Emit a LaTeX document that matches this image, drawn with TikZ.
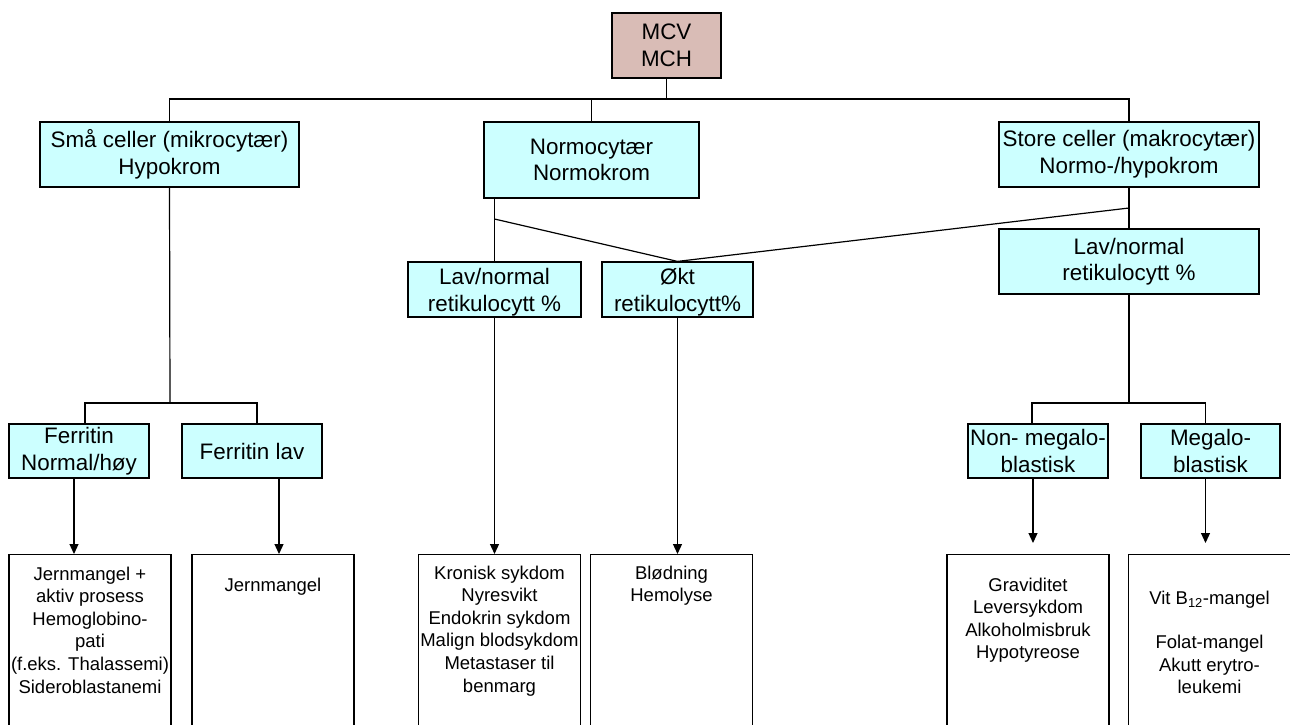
\documentclass[tikz,border=0pt]{standalone}
\usepackage{fontspec}
\setmainfont{Liberation Sans}
\usetikzlibrary{arrows.meta}
\definecolor{boxcyan}{RGB}{204,255,255}
\definecolor{boxrose}{RGB}{217,188,182}
\begin{document}
\begin{tikzpicture}
[x=1pt,y=-1pt,line width=1.2pt,
 catnode/.style={draw,fill=boxcyan,align=center,inner sep=0pt,font=\fontsize{22.4}{26.6}\selectfont},
 retnode/.style={catnode,minimum height=55pt,text height=47pt,text depth=4pt},
 resnode/.style={draw,anchor=north,align=center,minimum width=162pt,inner xsep=2pt,text depth=220pt,font=\fontsize{18.5}{22.6}\selectfont},
 arr/.style={-{Triangle[length=10pt,width=9pt]}}]

\useasboundingbox (0,0) rectangle (1290,724);
\clip (0,0) rectangle (1290,724);

\node (root) at (666.5,45.5) [catnode,fill=boxrose,minimum width=109pt,minimum height=65pt] {MCV\\MCH};

\node (smaa) at (169.5,154.5) [catnode,minimum width=259pt,minimum height=65pt] {Små celler (mikrocytær)\\Hypokrom};
\node (normo) at (591.5,160) [catnode,minimum width=215pt,minimum height=76pt] {Normocytær\\Normokrom};
\node (store) at (1129,154.5) [catnode,minimum width=260pt,minimum height=65pt] {Store celler (makrocytær)\\Normo-/hypokrom};

\node (lavM) at (494.5,289.5) [retnode,minimum width=173pt] {Lav/normal\\retikulocytt \%};
\node (okt) at (677.5,289.5) [retnode,minimum width=151pt] {Økt\\retikulocytt\%};
\node (lavR) at (1129,261.5) [catnode,minimum width=260pt,minimum height=65pt] {Lav/normal\\retikulocytt \%};

\node (ferN) at (79,451) [catnode,minimum width=140pt,minimum height=54pt] {Ferritin\\Normal/høy};
\node (ferL) at (252,451) [catnode,minimum width=140pt,minimum height=54pt] {Ferritin lav};
\node (nonmeg) at (1038,451) [catnode,minimum width=140pt,minimum height=54pt] {Non- megalo-\\blastisk};
\node (meg) at (1210.5,451) [catnode,minimum width=139pt,minimum height=54pt] {Megalo-\\blastisk};

\node (r1) at (90,554) [resnode,inner ysep=12pt] {Jernmangel +\\aktiv prosess\\Hemoglobino-\\pati\\(f.eks. Thalassemi)\\Sideroblastanemi};
\node (r2) at (273,554) [resnode,inner ysep=23pt] {Jernmangel};
\node (r3) at (499.5,554) [resnode,inner ysep=11pt] {Kronisk sykdom\\Nyresvikt\\Endokrin sykdom\\Malign blodsykdom\\Metastaser til\\benmarg};
\node (r4) at (671.5,554) [resnode,inner ysep=11pt] {Blødning\\Hemolyse};
\node (r5) at (1028,554) [resnode,inner ysep=23pt] {Graviditet\\Leversykdom\\Alkoholmisbruk\\Hypotyreose};
\node (r6) at (1209.5,554) [resnode,inner ysep=36pt] {Vit B\textsubscript{12}-mangel\\[22pt]Folat-mangel\\Akutt erytro-\\leukemi};

\coordinate (bus) at (0,99);
\coordinate (lsplit) at (170,403);
\coordinate (rsplit) at (1129,403);
\coordinate (jL) at (494.5,219);
\coordinate (jR) at (1129,208);

\draw (root.south) -- (root.south |- bus);
\draw (smaa.north) -- (smaa.north |- bus) -| (store.north);
\draw (normo.north) -- (normo.north |- bus);

\draw (smaa.south) -- (lsplit);
\draw ([xshift=6pt]ferN.north) |- (lsplit) -| ([xshift=5pt]ferL.north);

\draw (lavM.north |- normo.south) -- (lavM.north);
\draw (jL) -- (okt.north) -- (jR);
\draw (store.south) -- (lavR.north);

\draw (lavR.south) -- (rsplit);
\draw ([xshift=-6pt]nonmeg.north) |- (rsplit) -| ([xshift=-5pt]meg.north);

\coordinate (a1) at ([xshift=-5pt]ferN.south);
\coordinate (a2) at ([xshift=6pt]r2.north);
\coordinate (a5) at ([xshift=-5pt]nonmeg.south);
\coordinate (a6) at ([xshift=-5pt]meg.south);

\draw[arr] (a1) -- (a1 |- r1.north);
\draw[arr] (a2 |- ferL.south) -- (a2);
\foreach \from/\to in {lavM/r3, okt/r4}
	\draw[arr] (\from.south) -- (\from.south |- \to.north);
\foreach \from/\to in {a5/r5, a6/r6}
	\draw[arr,shorten >=11pt] (\from) -- (\from |- \to.north);

\end{tikzpicture}
\end{document}
